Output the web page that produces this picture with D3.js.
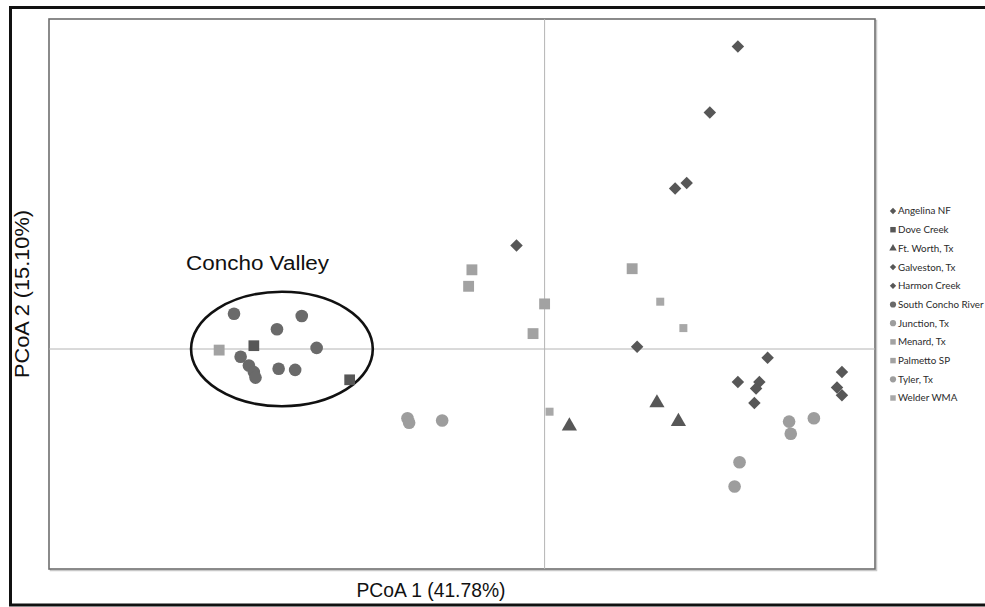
<!DOCTYPE html>
<html>
<head>
<meta charset="utf-8">
<script src="https://cdn.jsdelivr.net/npm/d3@7"></script>
<style>
  html, body { margin: 0; padding: 0; background: #fff; }
  svg { display: block; }
</style>
</head>
<body>
<svg id="chart"></svg>
<script>
// PCoA coordinates
const angelina = [[0.117, 0.275], [0.100, 0.215], [0.079, 0.146], [0.086, 0.151], [-0.017, 0.094]];
const doveCreek = [[-0.176, 0.003], [-0.118, -0.028]];
const ftWorth = [[0.068, -0.049], [0.081, -0.066], [0.015, -0.070]];
const galveston = [[0.056, 0.002], [0.135, -0.008], [0.117, -0.030], [0.130, -0.030], [0.128, -0.036], [0.127, -0.049]];
const harmonCreek = [[0.180, -0.021], [0.177, -0.035], [0.180, -0.042]];
const southConcho = [[-0.188, 0.032], [-0.147, 0.030], [-0.162, 0.018], [-0.138, 0.001], [-0.184, -0.007],
                     [-0.179, -0.015], [-0.176, -0.021], [-0.175, -0.026], [-0.161, -0.018], [-0.151, -0.019]];
const junction = [[-0.083, -0.063], [-0.082, -0.067], [-0.062, -0.065]];
const menard = [[-0.044, 0.072], [-0.046, 0.057], [0.000, 0.041], [-0.007, 0.014]];
const palmetto = [[0.053, 0.073], [-0.197, -0.001]];
const tyler = [[0.148, -0.066], [0.149, -0.077], [0.163, -0.063], [0.118, -0.103], [0.115, -0.125]];
const welder = [[0.003, -0.057], [0.070, 0.043], [0.084, 0.019]];

const sites = ["Angelina NF", "Dove Creek", "Ft. Worth, Tx", "Galveston, Tx", "Harmon Creek", "South Concho River",
               "Junction, Tx", "Menard, Tx", "Palmetto SP", "Tyler, Tx", "Welder WMA"];
const siteData = [angelina, doveCreek, ftWorth, galveston, harmonCreek, southConcho, junction, menard, palmetto, tyler, welder];
const shapes = ["diamond", "square", "triangle", "diamond", "diamond", "circle", "circle", "square", "square", "circle", "square"];
const fills = ["#575757", "#575757", "#575757", "#575757", "#575757", "#6a6a6a", "#9d9d9d", "#a2a2a2", "#a2a2a2", "#9d9d9d", "#a8a8a8"];
const sizes = [78, 115, 100, 78, 78, 125, 125, 118, 118, 125, 64];

const xDomain = [-0.3, 0.2];
const yDomain = [-0.2, 0.3];
const xTitle = "PCoA 1 (41.78%)";
const yTitle = "PCoA 2 (15.10%)";
const cluster = {label: "Concho Valley", cx: -0.159, cy: 0, rx: 0.055, ry: 0.052};

const W = 985, H = 607;
const margin = {top: 19, right: 110, bottom: 38, left: 49};

const svg = d3.select("#chart").attr("width", W).attr("height", H);

const x = d3.scaleLinear().domain(xDomain).range([margin.left, W - margin.right]);
const y = d3.scaleLinear().domain(yDomain).range([H - margin.bottom, margin.top]);

// outer frame (open on the right like the cropped figure)
svg.append("path")
  .attr("d", `M${W + 5},7.5 H10.5 V605 H${W + 5}`)
  .attr("fill", "none")
  .attr("stroke", "#111")
  .attr("stroke-width", 3);

// plot box with a light shadow
svg.append("rect")
  .attr("x", x(xDomain[0]) + 1.5).attr("y", y(yDomain[1]) + 1.5)
  .attr("width", x(xDomain[1]) - x(xDomain[0])).attr("height", y(yDomain[0]) - y(yDomain[1]))
  .attr("fill", "none").attr("stroke", "#c8c8c8").attr("stroke-width", 1.5);
svg.append("rect")
  .attr("x", x(xDomain[0])).attr("y", y(yDomain[1]))
  .attr("width", x(xDomain[1]) - x(xDomain[0])).attr("height", y(yDomain[0]) - y(yDomain[1]))
  .attr("fill", "#fff").attr("stroke", "#6e6e6e").attr("stroke-width", 1.6);

// zero lines
svg.append("line")
  .attr("x1", x(0)).attr("x2", x(0))
  .attr("y1", y(yDomain[1])).attr("y2", y(yDomain[0]))
  .attr("stroke", "#b4b4b4").attr("stroke-width", 1);
svg.append("line")
  .attr("x1", x(xDomain[0])).attr("x2", x(xDomain[1]))
  .attr("y1", y(0)).attr("y2", y(0))
  .attr("stroke", "#b4b4b4").attr("stroke-width", 1);

const symbolType = {
  diamond: d3.symbolSquare,
  square: d3.symbolSquare,
  triangle: d3.symbolTriangle,
  circle: d3.symbolCircle
};
const symbolPath = (shape, size) => d3.symbol().type(symbolType[shape]).size(size)();
const rot = shape => shape === "diamond" ? " rotate(45)" : "";

// cluster ellipse
svg.append("ellipse")
  .attr("cx", x(cluster.cx)).attr("cy", y(cluster.cy))
  .attr("rx", x(cluster.cx + cluster.rx) - x(cluster.cx))
  .attr("ry", y(cluster.cy) - y(cluster.cy + cluster.ry))
  .attr("fill", "none").attr("stroke", "#111").attr("stroke-width", 2.6);

svg.append("text")
  .attr("x", x(cluster.cx - cluster.rx) - 5)
  .attr("y", y(cluster.cy + cluster.ry) - 22)
  .attr("font-family", "Liberation Sans, Arial, sans-serif")
  .attr("font-size", 20)
  .attr("textLength", 143)
  .attr("lengthAdjust", "spacingAndGlyphs")
  .attr("fill", "#111")
  .text(cluster.label);

// points
const groups = svg.append("g")
  .selectAll("g")
  .data(siteData)
  .enter().append("g")
  .attr("fill", (d, i) => fills[i]);

groups.each(function (pts, i) {
  d3.select(this).selectAll("path")
    .data(pts)
    .enter().append("path")
    .attr("d", symbolPath(shapes[i], sizes[i]))
    .attr("transform", d => `translate(${x(d[0])},${y(d[1])})` + rot(shapes[i]));
});

// axis titles
svg.append("text")
  .attr("x", 431).attr("y", 597)
  .attr("text-anchor", "middle")
  .attr("font-family", "Liberation Sans, Arial, sans-serif")
  .attr("font-size", 20)
  .attr("textLength", 149)
  .attr("lengthAdjust", "spacingAndGlyphs")
  .attr("fill", "#111")
  .text(xTitle);

svg.append("text")
  .attr("transform", `translate(29,${(y(yDomain[0]) + y(yDomain[1])) / 2}) rotate(-90)`)
  .attr("text-anchor", "middle")
  .attr("font-family", "Liberation Sans, Arial, sans-serif")
  .attr("font-size", 21)
  .attr("textLength", 168)
  .attr("lengthAdjust", "spacingAndGlyphs")
  .attr("fill", "#111")
  .text(yTitle);

// legend
const legend = svg.append("g")
  .selectAll("g")
  .data(sites)
  .enter().append("g")
  .attr("transform", (d, i) => `translate(893,${211 + i * 18.7})`);

legend.append("path")
  .attr("d", (d, i) => symbolPath(shapes[i], shapes[i] === "diamond" ? 20 : shapes[i] === "triangle" ? 24 : 30))
  .attr("transform", (d, i) => rot(shapes[i]).trim())
  .attr("fill", (d, i) => fills[i]);

legend.append("text")
  .attr("x", 5)
  .attr("dy", "0.35em")
  .attr("font-family", "Lato, sans-serif")
  .attr("font-size", 9.8)
  .attr("fill", "#2a2a2a")
  .text(d => d);
</script>
</body>
</html>
